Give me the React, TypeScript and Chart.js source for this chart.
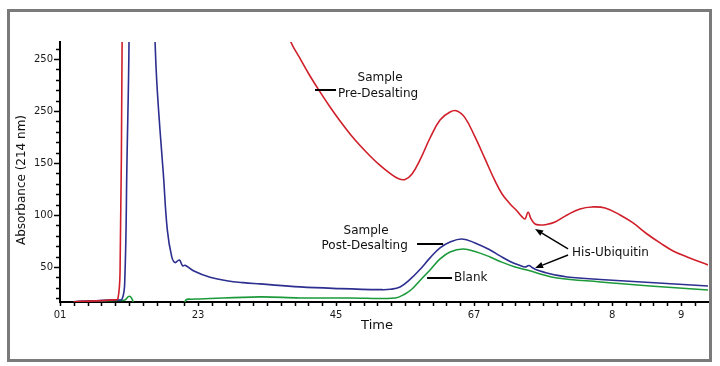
import React, { useEffect, useRef } from 'react';
import { Chart, registerables } from 'chart.js';

Chart.register(...registerables);

// ---- data ----
const redTime = [0.2, 0.8, 0.84, 0.87, 0.9, 0.93, 2.9, 3.2, 3.333, 3.478, 3.623, 3.768, 3.913, 4.058, 4.203, 4.348, 4.493, 4.638, 4.783, 4.899, 5.0, 5.101, 5.217, 5.362, 5.507, 5.652, 5.754, 5.87, 6.014, 6.159, 6.304, 6.406, 6.522, 6.623, 6.696, 6.739, 6.783, 6.826, 6.884, 6.957, 7.029, 7.174, 7.348, 7.536, 7.71, 7.899, 8.116, 8.304, 8.507, 8.696, 8.884, 9.087, 9.39];
const redAbs = [16.6, 18.3, 19.5, 45, 266, 600, 600, 300, 268.3, 250.5, 233.6, 218.3, 203.8, 190.4, 177.9, 166.8, 156.7, 147.6, 139.9, 135.1, 134.1, 139.4, 152.9, 174, 191.3, 199, 200, 193.3, 175, 153.9, 132.7, 120.2, 110.6, 103.8, 98.1, 96.2, 102.9, 96.2, 91.3, 90.4, 90.6, 93.3, 100, 105.8, 107.7, 106.7, 100, 92.3, 81.7, 73.1, 65.4, 59.6, 51.9];

const blueTime = [0.2, 0.8, 0.9, 0.94, 0.97, 1.0, 1.03, 1.3, 1.355, 1.377, 1.401, 1.449, 1.497, 1.555, 1.619, 1.667, 1.729, 1.778, 1.812, 1.932, 2.174, 2.416, 2.657, 2.899, 3.478, 4.058, 4.638, 4.783, 4.928, 5.072, 5.217, 5.362, 5.507, 5.652, 5.826, 6.014, 6.232, 6.377, 6.522, 6.667, 6.739, 6.797, 6.841, 6.913, 7.029, 7.174, 7.348, 7.826, 8.551, 9.39];
const blueAbs = [16.6, 18.3, 19.2, 40, 150, 266, 600, 600, 330, 268, 229.8, 181.7, 140, 85.6, 59.9, 54.2, 56.7, 51, 51.6, 46.4, 40.1, 36.8, 34.9, 33.7, 30.8, 29.2, 28.2, 28.5, 30.8, 38, 47.6, 58.7, 68.3, 74, 76.9, 73.1, 66.3, 60.6, 55.3, 51.4, 50, 51.4, 49.5, 47.1, 44.7, 42.3, 40.4, 38, 35.1, 31.7];

const greenTime = [0.2, 0.8, 0.94, 0.99, 1.02, 1.05, 1.09, 1.2, 1.75, 1.8, 1.826, 1.9, 2.029, 2.899, 3.478, 4.203, 4.855, 5.0, 5.101, 5.217, 5.362, 5.507, 5.652, 5.841, 6.014, 6.232, 6.377, 6.594, 6.768, 6.957, 7.203, 7.826, 8.551, 9.39];
const greenAbs = [16.6, 17.8, 18.3, 21.5, 21.5, 18.3, 10, 0, 0, 12, 18.3, 19, 19.2, 21.2, 20.2, 20.2, 20.2, 24, 28.8, 37, 47.1, 57.7, 64.4, 67.3, 64.9, 59.6, 55.3, 50, 47.1, 43.3, 39.4, 35.6, 31.7, 27.9];

const seriesNames = ['Sample Pre-Desalting', 'Sample Post-Desalting', 'Blank'];

const xTickValues = [0, 2, 4, 6, 8, 9];
const xTickLabels = ['01', '23', '45', '67', '8', '9'];
const yTickValues = [50, 100, 150, 200, 250];
const yTickLabels = ['50', '100', '150', '250', '250'];

// ---- annotation placement (in data coordinates) ----
const textNotes = [
  { text: 'Sample', t: 4.638, v: 228.8, align: 'center' },
  { text: 'Pre-Desalting', t: 4.609, v: 213.5, align: 'center' },
  { text: 'Sample', t: 4.435, v: 81.7, align: 'center' },
  { text: 'Post-Desalting', t: 4.415, v: 67.3, align: 'center' },
  { text: 'Blank', t: 5.71, v: 36.5, align: 'left' },
  { text: 'His-Ubiquitin', t: 7.42, v: 60.6, align: 'left' },
];
const leaderLines = [
  { t1: 3.696, t2: 4.0, v: 220.2 },
  { t1: 5.174, t2: 5.551, v: 72.1 },
  { t1: 5.319, t2: 5.681, v: 39.4 },
];
const arrows = [
  { t1: 7.362, v1: 67.3, t2: 6.884, v2: 86.5 },
  { t1: 7.362, v1: 61.5, t2: 6.884, v2: 49.0 },
];

const FONT = '"DejaVu Sans", Verdana, sans-serif';
const X_MIN = 0;
const X_MAX = 9.39;
const Y_MIN = 16.3;
const Y_MAX = 266.3;

function toPoints(xs: number[], ys: number[]) {
  return xs.map((x, i) => ({ x, y: ys[i] }));
}

const decorPlugin = {
  id: 'decor',
  afterDraw(chart: any) {
    const ctx = chart.ctx as CanvasRenderingContext2D;
    const xs = chart.scales.x;
    const ys = chart.scales.y;
    const area = chart.chartArea;
    ctx.save();

    // tick marks
    ctx.strokeStyle = '#000';
    ctx.lineWidth = 1.5;
    ctx.beginPath();
    for (let v = 20; v <= 260; v += 10) {
      const y = Math.round(ys.getPixelForValue(v)) + 0.5;
      const len = v % 50 === 0 ? 6 : 4;
      ctx.moveTo(area.left - 1, y);
      ctx.lineTo(area.left - len, y);
    }
    for (let k = 0; k <= 46; k++) {
      const t = k * 0.2;
      if (t > X_MAX) break;
      const x = Math.round(xs.getPixelForValue(t)) + 0.5;
      ctx.moveTo(x, area.bottom + 1);
      ctx.lineTo(x, area.bottom + 4);
    }
    ctx.stroke();

    // leader lines
    ctx.lineWidth = 2;
    ctx.beginPath();
    leaderLines.forEach((l) => {
      const y = ys.getPixelForValue(l.v);
      ctx.moveTo(xs.getPixelForValue(l.t1), y);
      ctx.lineTo(xs.getPixelForValue(l.t2), y);
    });
    ctx.stroke();

    // arrows
    ctx.lineWidth = 1.4;
    ctx.fillStyle = '#000';
    arrows.forEach((a) => {
      const x1 = xs.getPixelForValue(a.t1);
      const y1 = ys.getPixelForValue(a.v1);
      const x2 = xs.getPixelForValue(a.t2);
      const y2 = ys.getPixelForValue(a.v2);
      const ang = Math.atan2(y2 - y1, x2 - x1);
      const hl = 8;
      const hw = 3.2;
      const bx = x2 - hl * Math.cos(ang);
      const by = y2 - hl * Math.sin(ang);
      ctx.beginPath();
      ctx.moveTo(x1, y1);
      ctx.lineTo(bx, by);
      ctx.stroke();
      ctx.beginPath();
      ctx.moveTo(x2, y2);
      ctx.lineTo(bx + hw * Math.sin(ang), by - hw * Math.cos(ang));
      ctx.lineTo(bx - hw * Math.sin(ang), by + hw * Math.cos(ang));
      ctx.closePath();
      ctx.fill();
    });

    // annotation texts
    ctx.fillStyle = '#111';
    ctx.font = `12px ${FONT}`;
    ctx.textBaseline = 'alphabetic';
    textNotes.forEach((n) => {
      ctx.textAlign = n.align as CanvasTextAlign;
      ctx.fillText(n.text, xs.getPixelForValue(n.t), ys.getPixelForValue(n.v));
    });

    // axis titles
    ctx.font = `13px ${FONT}`;
    ctx.textAlign = 'center';
    ctx.fillText('Time', 377, 329);
    ctx.save();
    ctx.translate(22, 180);
    ctx.rotate(-Math.PI / 2);
    ctx.font = `12px ${FONT}`;
    ctx.textBaseline = 'middle';
    ctx.fillText('Absorbance (214 nm)', 0, 0);
    ctx.restore();

    // outer frame
    ctx.strokeStyle = '#7a7a7a';
    ctx.lineWidth = 3;
    ctx.strokeRect(8.5, 10.5, 702, 350);

    ctx.restore();
  },
};

export default function App() {
  const canvasRef = useRef<HTMLCanvasElement | null>(null);

  useEffect(() => {
    if (!canvasRef.current) return;
    const chart = new Chart(canvasRef.current, {
      type: 'line',
      data: {
        datasets: [
          { label: seriesNames[0], data: toPoints(redTime, redAbs), borderColor: '#d01f2a' },
          { label: seriesNames[1], data: toPoints(blueTime, blueAbs), borderColor: '#2c2f8f' },
          { label: seriesNames[2], data: toPoints(greenTime, greenAbs), borderColor: '#1c9a3a' },
        ].map((d) => ({
          ...d,
          borderWidth: 1.6,
          pointRadius: 0,
          fill: false,
          tension: 0.4,
        })),
      },
      options: {
        responsive: false,
        animation: false,
        layout: { padding: { left: 0, right: 12, top: 42, bottom: 0 } },
        plugins: { legend: { display: false }, tooltip: { enabled: false } },
        scales: {
          x: {
            type: 'linear',
            min: X_MIN,
            max: X_MAX,
            afterBuildTicks: (s: any) => {
              s.ticks = xTickValues.map((value) => ({ value }));
            },
            afterFit: (s: any) => {
              s.height = 64;
            },
            ticks: {
              autoSkip: false,
              maxRotation: 0,
              padding: 4,
              color: '#1a1a1a',
              font: { family: FONT, size: 10 },
              callback: (_v: any, i: number) => xTickLabels[i],
            },
            grid: { display: false, drawTicks: true, tickLength: 3 },
            border: { display: true, color: '#000', width: 2 },
          },
          y: {
            type: 'linear',
            min: Y_MIN,
            max: Y_MAX,
            afterBuildTicks: (s: any) => {
              s.ticks = yTickValues.map((value) => ({ value }));
            },
            afterFit: (s: any) => {
              s.width = 60;
            },
            ticks: {
              autoSkip: false,
              padding: 1,
              color: '#1a1a1a',
              font: { family: FONT, size: 10 },
              callback: (_v: any, i: number) => yTickLabels[i],
            },
            grid: { display: false, drawTicks: true, tickLength: 6 },
            border: { display: true, color: '#000', width: 2 },
          },
        },
      },
      plugins: [decorPlugin],
    } as any);
    return () => chart.destroy();
  }, []);

  return (
    <div style={{ position: 'absolute', left: 0, top: 0, width: 720, height: 366, background: '#fff' }}>
      <canvas ref={canvasRef} width={720} height={366} style={{ display: 'block' }} />
    </div>
  );
}
